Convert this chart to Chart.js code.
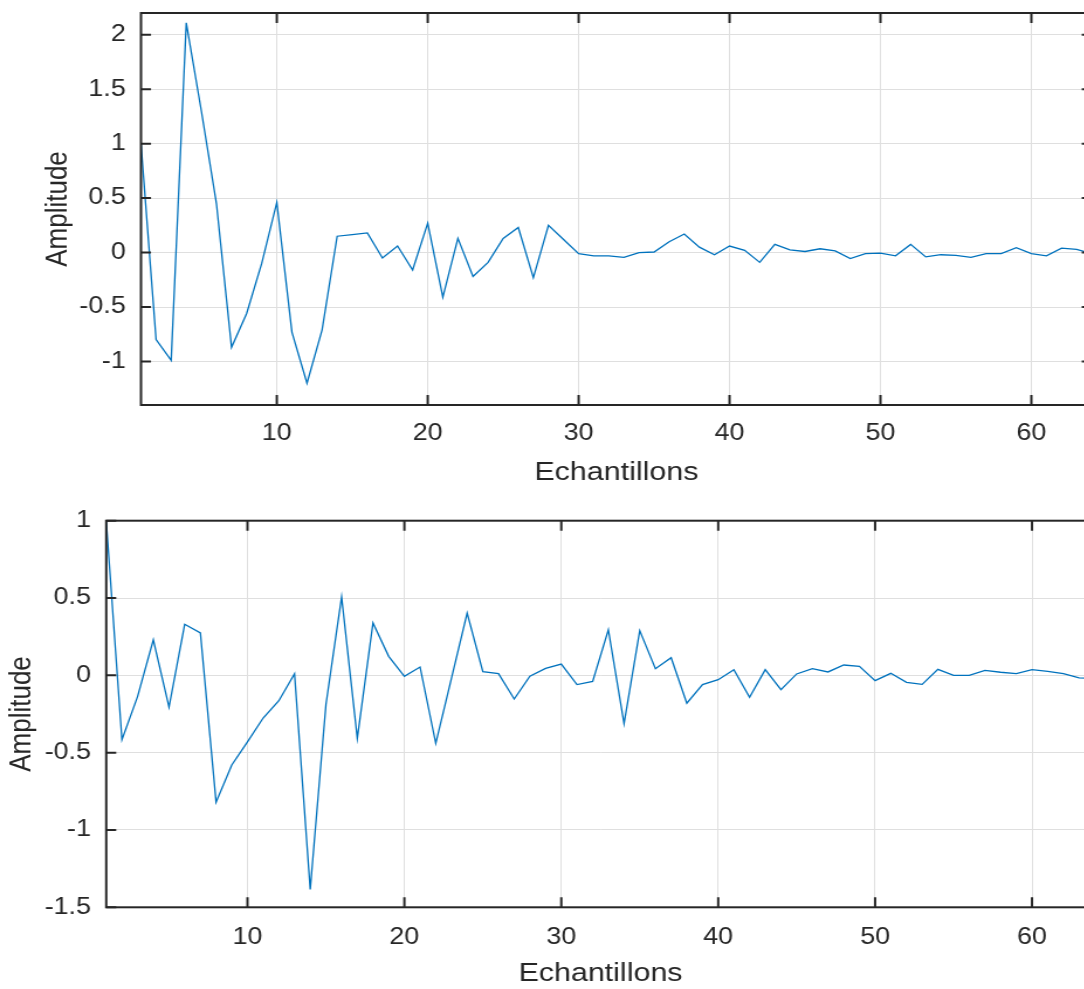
<!DOCTYPE html>
<html>
<head>
<meta charset="utf-8">
<script src="https://cdn.jsdelivr.net/npm/chart.js@4.4.1/dist/chart.umd.min.js"></script>
<style>
  html, body { margin: 0; padding: 0; background: #fff; overflow: hidden; }
  #fig { position: relative; width: 1084px; height: 989px; overflow: hidden; background: #fff; }
  .panel { position: absolute; left: 0; transform-origin: 0 0; transform: scaleX(1.17); }
</style>
</head>
<body>
<div id="fig">
  <div class="panel" style="top:0px"><canvas id="top" width="950" height="495"></canvas></div>
  <div class="panel" style="top:495px"><canvas id="bottom" width="950" height="497"></canvas></div>
</div>
<script>
// sample index (Echantillons)
const samples = [1,2,3,4,5,6,7,8,9,10,11,12,13,14,15,16,17,18,19,20,21,22,23,24,25,26,27,28,29,30,31,32,
  33,34,35,36,37,38,39,40,41,42,43,44,45,46,47,48,49,50,51,52,53,54,55,56,57,58,59,60,61,62,63,64];
const xTicks = [10, 20, 30, 40, 50, 60];

const topValues = [1.0, -0.80, -0.99, 2.11, 1.30, 0.45, -0.87, -0.56, -0.10, 0.46,
  -0.73, -1.20, -0.71, 0.15, 0.165, 0.18, -0.05, 0.06, -0.16, 0.27,
  -0.41, 0.13, -0.22, -0.09, 0.13, 0.23, -0.23, 0.25, 0.12, -0.01,
  -0.03, -0.03, -0.045, 0.0, 0.005, 0.10, 0.17, 0.05, -0.02, 0.06,
  0.02, -0.09, 0.075, 0.025, 0.01, 0.035, 0.015, -0.055, -0.01, -0.005,
  -0.03, 0.075, -0.04, -0.02, -0.025, -0.045, -0.01, -0.01, 0.045, -0.01,
  -0.03, 0.04, 0.03, -0.01];
const topYTicks = [-1, -0.5, 0, 0.5, 1, 1.5, 2];

const bottomValues = [1.0, -0.416, -0.136, 0.23, -0.205, 0.33, 0.274, -0.82, -0.58, -0.43,
  -0.276, -0.164, 0.01, -1.385, -0.19, 0.507, -0.407, 0.339, 0.123, -0.006,
  0.054, -0.44, -0.02, 0.403, 0.024, 0.011, -0.153, -0.006, 0.045, 0.073,
  -0.06, -0.039, 0.295, -0.312, 0.289, 0.043, 0.114, -0.18, -0.06, -0.028,
  0.037, -0.142, 0.037, -0.092, 0.009, 0.043, 0.022, 0.067, 0.058, -0.034,
  0.013, -0.045, -0.058, 0.039, 0.0, 0.0, 0.032, 0.02, 0.011, 0.037,
  0.026, 0.011, -0.017, -0.02];
const bottomYTicks = [-1.5, -1, -0.5, 0, 0.5, 1];

const STRETCH = 1.17;
const axisColor = '#262626';
const gridColor = '#dfdfdf';
const lineColor = '#0072bd';
const family = "'Liberation Sans', Arial, sans-serif";

// matlab style box with inward ticks
const boxPlugin = {
  id: 'box',
  afterDatasetsDraw(chart) {
    const { ctx, chartArea: a, scales } = chart;
    ctx.save();
    ctx.strokeStyle = axisColor;
    ctx.lineWidth = 2;
    ctx.strokeRect(a.left, a.top, a.right - a.left, a.bottom - a.top);
    ctx.beginPath();
    scales.x.ticks.forEach(t => {
      const px = scales.x.getPixelForValue(t.value);
      ctx.moveTo(px, a.bottom); ctx.lineTo(px, a.bottom - 10);
      ctx.moveTo(px, a.top); ctx.lineTo(px, a.top + 10);
    });
    const tl = 10 / STRETCH;
    scales.y.ticks.forEach(t => {
      const py = scales.y.getPixelForValue(t.value);
      ctx.moveTo(a.left, py); ctx.lineTo(a.left + tl, py);
      ctx.moveTo(a.right, py); ctx.lineTo(a.right - tl, py);
    });
    ctx.stroke();
    ctx.restore();
  }
};

function makeChart(id, values, yTicks, yMin, yMax, opt) {
  return new Chart(document.getElementById(id), {
    type: 'line',
    data: {
      datasets: [{
        data: samples.map((x, i) => ({ x: x, y: values[i] })),
        borderColor: lineColor,
        borderWidth: 1.3,
        pointRadius: 0,
        tension: 0,
        fill: false
      }]
    },
    options: {
      responsive: false,
      animation: false,
      layout: { padding: { left: 0, top: opt.top, right: opt.right, bottom: 0 } },
      plugins: { legend: { display: false }, tooltip: { enabled: false } },
      scales: {
        x: {
          type: 'linear',
          min: 1,
          max: 64,
          afterBuildTicks: s => { s.ticks = xTicks.map(v => ({ value: v })); },
          afterFit: s => {
            s.height = opt.xHeight;
            s.paddingLeft = 0; s.paddingRight = 0;
          },
          grid: { color: gridColor, drawTicks: false },
          border: { display: false },
          ticks: {
            padding: opt.xTickPad, color: axisColor, autoSkip: false, maxRotation: 0,
            font: { family: family, size: 23 },
            callback: v => String(v)
          },
          title: {
            display: true, text: 'Echantillons', color: axisColor,
            font: { family: family, size: 26 },
            padding: { top: 0, bottom: opt.titlePad }
          }
        },
        y: {
          min: yMin,
          max: yMax,
          afterBuildTicks: s => { s.ticks = yTicks.map(v => ({ value: v })); },
          afterFit: s => {
            s.width = opt.yWidth;
            s.paddingTop = 0; s.paddingBottom = 0;
          },
          grid: { color: gridColor, drawTicks: false },
          border: { display: false },
          ticks: {
            padding: 13, color: axisColor, autoSkip: false,
            font: { family: family, size: 23 },
            callback: v => String(v)
          },
          title: {
            display: true, text: 'Amplitude', color: axisColor,
            font: { family: family, size: 26 },
            padding: { top: opt.yTitlePad, bottom: 0 }
          }
        }
      }
    },
    plugins: [boxPlugin]
  });
}

makeChart('top', topValues, topYTicks, -1.4, 2.2,
  { top: 13, right: 16.9, xHeight: 90, xTickPad: 15, titlePad: 6.8, yWidth: 120.5, yTitlePad: 34 });
makeChart('bottom', bottomValues, bottomYTicks, -1.5, 1,
  { top: 25.7, right: 14.3, xHeight: 84.7, xTickPad: 17, titlePad: 2.4, yWidth: 90.8, yTitlePad: 3.6 });
</script>
</body>
</html>
